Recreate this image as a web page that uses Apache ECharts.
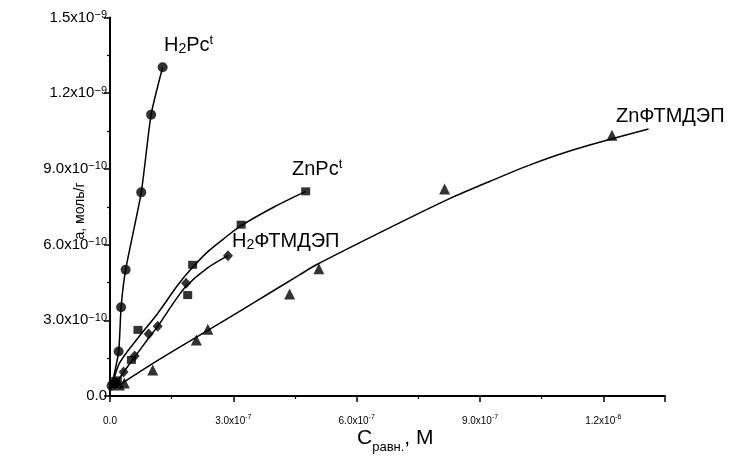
<!DOCTYPE html>
<html>
<head>
<meta charset="utf-8">
<script src="https://cdn.jsdelivr.net/npm/echarts@6/dist/echarts.min.js"></script>
<style>
  html, body { margin: 0; background: #fff; }
  #chart { width: 729px; height: 461px; }
</style>
</head>
<body>
<div id="chart"></div>
<script>
/* Adsorption isotherms. x: C (equilibrium) in units of 1e-7 M, y: a in units of 1e-10 mol/g */
const h2pcPoints  = [[0.04,0.40],[0.09,0.56],[0.21,1.76],[0.27,3.52],[0.38,5.00],[0.76,8.07],[1.00,11.15],[1.28,13.03]];
const h2pcCurve   = [[0.02,0.25],[0.21,1.76],[0.27,3.52],[0.38,5.00],[0.76,8.07],[1.00,11.15],[1.28,13.03]];
const znpcPoints  = [[0.11,0.48],[0.18,0.62],[0.52,1.43],[0.68,2.62],[1.89,4.00],[2.01,5.20],[3.19,6.79],[4.76,8.11]];
const znpcCurve   = [[0.05,0.35],[0.23,1.30],[0.68,2.30],[1.15,3.25],[1.65,4.40],[2.01,5.10],[2.40,5.75],[2.82,6.30],[3.19,6.75],[4.00,7.50],[4.76,8.11]];
const h2ftmPoints = [[0.13,0.52],[0.33,0.95],[0.60,1.59],[0.94,2.46],[1.16,2.76],[1.85,4.47],[2.87,5.56]];
const h2ftmCurve  = [[0.05,0.30],[0.40,1.10],[0.94,2.30],[1.16,2.76],[1.55,3.70],[1.85,4.35],[2.35,5.05],[2.87,5.56]];
const znftmPoints = [[0.23,0.44],[0.35,0.52],[1.04,1.03],[2.10,2.22],[2.38,2.65],[4.37,4.04],[5.08,5.04],[8.14,8.20],[12.21,10.33]];
const znftmCurve  = [[0.10,0.30],[1.20,1.45],[2.40,2.62],[3.50,3.70],[4.61,4.80],[5.02,5.20],[6.87,6.72],[8.26,7.82],[9.23,8.50],[10.28,9.20],[11.34,9.79],[13.10,10.58]];

const xTickMain = ['0.0', '3.0x10', '6.0x10', '9.0x10', '1.2x10'];
const xTickExp  = ['', '-7', '-7', '-7', '-6'];
const yTickMain = ['0.0', '3.0x10', '6.0x10', '9.0x10', '1.2x10', '1.5x10'];
const yTickExp  = ['', '−10', '−10', '−10', '−9', '−9'];

const FONT = '"Liberation Sans", Arial, sans-serif';
const chart = echarts.init(document.getElementById('chart'));

const tickFmt = (mains, exps) => (v) => {
  const i = Math.round(v / 3);
  if (!mains[i]) return '';
  return exps[i] ? '{m|' + mains[i] + '}{s|' + exps[i] + '}' : '{m|' + mains[i] + '}';
};

const curve = (data, smooth) => ({
  type: 'line', data, showSymbol: false, smooth, silent: true,
  lineStyle: { color: '#000', width: 1.5 }, z: 2,
});
const dots = (data, symbol, size) => ({
  type: 'scatter', data, symbol, symbolSize: size, silent: true,
  itemStyle: { color: '#000' }, z: 3,
});

const labelRich = {
  m: { fontSize: 20, fontFamily: FONT, lineHeight: 22, color: '#000' },
  sub: { fontSize: 14, fontFamily: FONT, lineHeight: 2, verticalAlign: 'bottom', color: '#000' },
  sup: { fontSize: 13, fontFamily: FONT, lineHeight: 14, verticalAlign: 'top', color: '#000' },
};
const note = (x, y, text) => ({
  type: 'text', x, y, silent: true,
  style: { text, rich: labelRich, verticalAlign: 'middle', align: 'left', fill: '#000' },
});

chart.setOption({
  animation: false,
  backgroundColor: '#fff',
  grid: { left: 110, right: 64, top: 17.5, bottom: 65, outerBoundsMode: 'none', containLabel: false },
  xAxis: {
    type: 'value', min: 0, max: 13.5, interval: 3,
    axisLine: { lineStyle: { color: '#000', width: 2 } },
    axisTick: { length: 6, lineStyle: { color: '#000', width: 1.5 } },
    minorTick: { show: true, splitNumber: 2, length: 3, lineStyle: { color: '#000', width: 1.2 } },
    splitLine: { show: false },
    axisLabel: {
      showMaxLabel: false, margin: 18, formatter: tickFmt(xTickMain, xTickExp),
      rich: {
        m: { fontSize: 10, fontFamily: FONT, lineHeight: 14, color: '#000' },
        s: { fontSize: 7, fontFamily: FONT, lineHeight: 6, verticalAlign: 'top', color: '#000' },
      },
    },
  },
  yAxis: {
    type: 'value', min: 0, max: 15, interval: 3,
    axisLine: { show: true, lineStyle: { color: '#000', width: 2 } },
    axisTick: { show: true, length: 6, lineStyle: { color: '#000', width: 1.5 } },
    minorTick: { show: true, splitNumber: 2, length: 3, lineStyle: { color: '#000', width: 1.2 } },
    splitLine: { show: false },
    axisLabel: {
      margin: 3, formatter: tickFmt(yTickMain, yTickExp),
      rich: {
        m: { fontSize: 15, fontFamily: FONT, lineHeight: 16, color: '#000' },
        s: { fontSize: 11, fontFamily: FONT, lineHeight: 10, verticalAlign: 'top', color: '#000' },
      },
    },
  },
  graphic: [
    note(164, 45, '{m|H}{sub|2}{m|Pc}{sup|t}'),
    note(292, 169, '{m|ZnPc}{sup|t}'),
    note(232, 241, '{m|H}{sub|2}{m|ФТМДЭП}'),
    note(616, 116, '{m|ZnФТМДЭП}'),
    {
      type: 'text', x: 357, y: 438, silent: true,
      style: {
        text: '{c|C}{s|равн.}{c|, M}', verticalAlign: 'middle', align: 'left',
        rich: {
          c: { fontSize: 21, fontFamily: FONT, lineHeight: 32, color: '#000' },
          s: { fontSize: 13, fontFamily: FONT, lineHeight: 2, verticalAlign: 'bottom', color: '#000' },
        },
      },
    },
    {
      type: 'text', x: 80, y: 211, rotation: Math.PI / 2, silent: true,
      style: { text: 'а, моль/г', font: '14px ' + FONT, fill: '#000', align: 'center', verticalAlign: 'middle' },
    },
  ],
  series: [
    curve(h2pcCurve, 0.2),
    curve(znpcCurve, 0.3),
    curve(h2ftmCurve, 0.3),
    curve(znftmCurve, 0.3),
    dots(h2pcPoints, 'circle', 10),
    dots(znpcPoints, 'rect', [9, 8]),
    dots(h2ftmPoints, 'diamond', [10, 11]),
    dots(znftmPoints, 'triangle', 11),
  ],
});
</script>
</body>
</html>
